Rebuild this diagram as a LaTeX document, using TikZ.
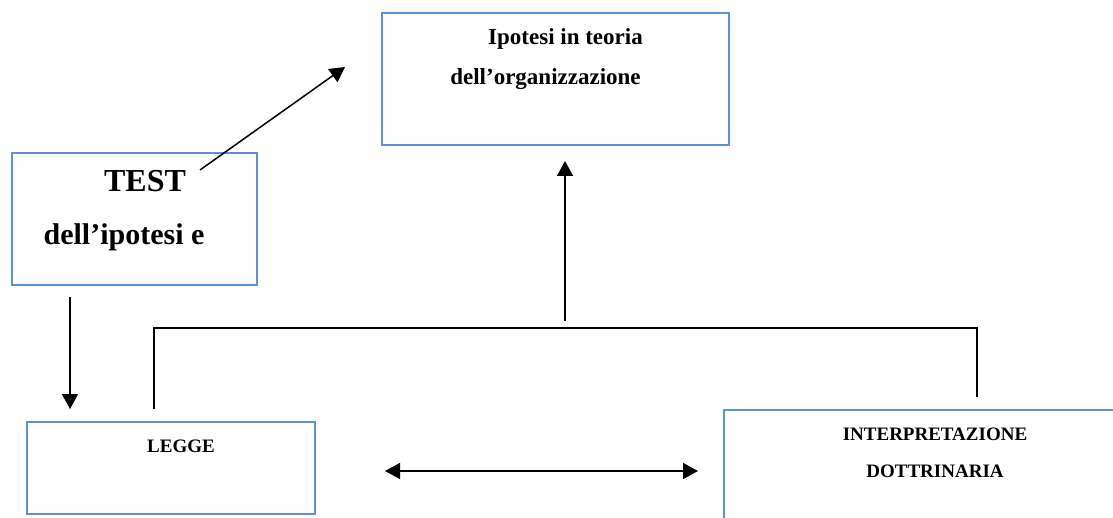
\documentclass[tikz,border=0pt]{standalone}
\usepackage{fontspec}
\setmainfont{Liberation Serif}
\usetikzlibrary{arrows.meta}
\definecolor{boxblue}{RGB}{95,143,212}
\tikzset{
    box/.style={draw=boxblue,line width=1.6pt,inner sep=0pt},
    lbl/.style={anchor=base,inner sep=0pt,font=\bfseries},
    line/.style={line width=1.5pt},
    arr/.style={line width=1.5pt,-{Triangle[length=15pt,width=16pt]}},
    darr/.style={line width=1.5pt,{Triangle[length=15pt,width=16pt]}-{Triangle[length=15pt,width=16pt]}}
}

\begin{document}
\begin{tikzpicture}[x=1pt,y=-1pt]
    \clip (0,0) rectangle (1113,518);
    \fill[white] (0,0) rectangle (1113,518);

    % boxes
    \node[box,minimum width=347pt,minimum height=132pt](ipotesi) at (555.5,79){};
    \node[box,minimum width=245pt,minimum height=132pt](test) at (134.5,219){};
    \node[box,minimum width=288pt,minimum height=92pt](legge) at (171,468){};
    \node[box,minimum width=420pt,minimum height=140pt](dottrina) at (934,480){};

    % texts
    \node[lbl,font=\bfseries\fontsize{23}{28}\selectfont](ipotesiA) at (565.5,45){Ipotesi in teoria};
    \node[lbl,font=\bfseries\fontsize{23}{28}\selectfont](ipotesiB) at (545.5,85){dell’organizzazione};
    \node[lbl,font=\bfseries\fontsize{32}{36}\selectfont](testA) at (145,192){TEST};
    \node[lbl,font=\bfseries\fontsize{30}{36}\selectfont](testB) at (124,245){dell’ipotesi e};
    \node[lbl,font=\bfseries\fontsize{19}{23}\selectfont](leggeA) at (181,452){LEGGE};
    \node[lbl,font=\bfseries\fontsize{19}{23}\selectfont](dottrinaA) at (935,440){INTERPRETAZIONE};
    \node[lbl,font=\bfseries\fontsize{19}{23}\selectfont](dottrinaB) at (935,477){DOTTRINARIA};

    % free ends of the connectors
    \coordinate (a1) at (200,170);
    \coordinate (a2) at (345,67);
    \coordinate (b1) at (70,297);
    \coordinate (b2) at (70,409);
    \coordinate (c1) at (565,321);
    \coordinate (c2) at (565,161);
    \coordinate (d1) at (385,471);
    \coordinate (d2) at (698,471);
    \coordinate (e1) at (154,409);
    \coordinate (e2) at (154,328);
    \coordinate (e3) at (977,328);
    \coordinate (e4) at (977,397);

    % connectors
    \draw[arr](a1)--(a2);
    \draw[arr](b1)--(b2);
    \draw[arr](c1)--(c2);
    \draw[darr](d1)--(d2);
    \draw[line](e1)--(e2)--(e3)--(e4);
\end{tikzpicture}
\end{document}
